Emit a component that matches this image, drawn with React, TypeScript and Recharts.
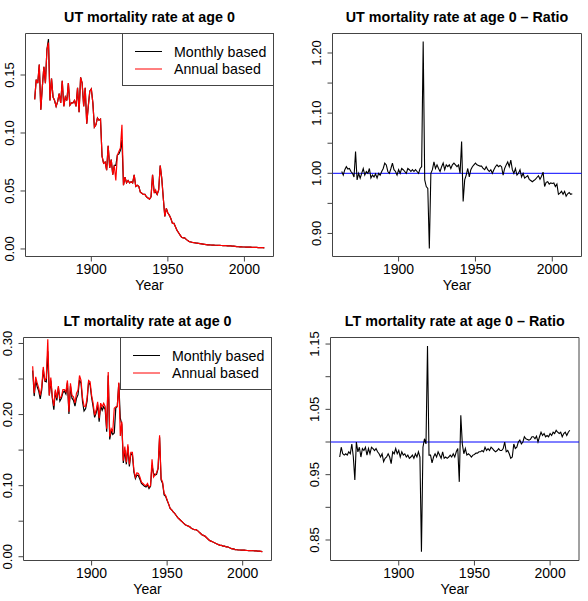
import { Line, LineChart, ReferenceArea, ReferenceLine, XAxis, YAxis } from "recharts";

const FONT = "'Liberation Sans', Arial, Helvetica, sans-serif";
const AXIS = "#444";
const X_AXIS_H = 36;

// UT series start in 1863, LT series in 1861; all end in 2013
const UT_START = 1863;
const LT_START = 1861;

const utAnnual = [
  0.129, 0.146, 0.143, 0.159, 0.120, 0.140, 0.157, 0.143, 0.172, 0.178,
  0.128, 0.147, 0.131, 0.128, 0.123, 0.127, 0.134, 0.126, 0.145, 0.123,
  0.131, 0.128, 0.143, 0.124, 0.126, 0.126, 0.128, 0.123, 0.139, 0.118,
  0.148, 0.143, 0.123, 0.139, 0.108, 0.123, 0.136, 0.138, 0.126, 0.105,
  0.107, 0.113, 0.111, 0.112, 0.080, 0.074, 0.075, 0.068, 0.089, 0.070,
  0.077, 0.064, 0.072, 0.059, 0.081, 0.084, 0.087, 0.107, 0.055, 0.062,
  0.057, 0.059, 0.057, 0.058, 0.057, 0.064, 0.054, 0.055, 0.054, 0.049,
  0.048, 0.047, 0.047, 0.045, 0.044, 0.043, 0.045, 0.064, 0.048, 0.051,
  0.047, 0.051, 0.072, 0.061, 0.044, 0.028, 0.035, 0.031, 0.029, 0.026,
  0.022, 0.022, 0.019, 0.016, 0.014, 0.012, 0.010, 0.0095, 0.0095, 0.0083,
  0.0072, 0.0063, 0.0060, 0.0057, 0.0055, 0.0052, 0.0050, 0.0048, 0.0046, 0.0044,
  0.0042, 0.0040, 0.0038, 0.0036, 0.0035, 0.0034, 0.0033, 0.0033, 0.0032, 0.0032,
  0.0031, 0.0031, 0.0030, 0.0029, 0.0029, 0.0028, 0.0027, 0.0027, 0.0026, 0.0025,
  0.0024, 0.0022, 0.0020, 0.0019, 0.0018, 0.0018, 0.0017, 0.0017, 0.0016, 0.0016,
  0.0015, 0.0015, 0.0014, 0.0014, 0.0013, 0.0013, 0.0012, 0.0012, 0.0011, 0.0011,
  0.0010,
];

const utMonthly = [
  0.129, 0.146, 0.143, 0.159, 0.120, 0.140, 0.157, 0.143, 0.172, 0.181,
  0.128, 0.147, 0.131, 0.128, 0.123, 0.127, 0.134, 0.126, 0.145, 0.123,
  0.131, 0.128, 0.143, 0.124, 0.126, 0.126, 0.128, 0.123, 0.139, 0.118,
  0.148, 0.143, 0.123, 0.139, 0.108, 0.123, 0.136, 0.138, 0.126, 0.105,
  0.107, 0.113, 0.111, 0.112, 0.080, 0.074, 0.075, 0.068, 0.089, 0.070,
  0.077, 0.064, 0.072, 0.072, 0.081, 0.082, 0.085, 0.094, 0.055, 0.062,
  0.057, 0.059, 0.057, 0.058, 0.057, 0.064, 0.054, 0.055, 0.054, 0.049,
  0.048, 0.047, 0.047, 0.045, 0.044, 0.043, 0.045, 0.064, 0.050, 0.049,
  0.047, 0.051, 0.072, 0.061, 0.044, 0.028, 0.035, 0.031, 0.029, 0.026,
  0.022, 0.022, 0.019, 0.016, 0.014, 0.012, 0.010, 0.0095, 0.0095, 0.0083,
  0.0072, 0.0063, 0.0060, 0.0057, 0.0055, 0.0052, 0.0050, 0.0048, 0.0046, 0.0044,
  0.0042, 0.0040, 0.0038, 0.0036, 0.0035, 0.0034, 0.0033, 0.0033, 0.0032, 0.0032,
  0.0031, 0.0031, 0.0030, 0.0029, 0.0029, 0.0028, 0.0027, 0.0027, 0.0026, 0.0025,
  0.0024, 0.0022, 0.0020, 0.0019, 0.0018, 0.0018, 0.0017, 0.0017, 0.0016, 0.0016,
  0.0015, 0.0015, 0.0014, 0.0014, 0.0013, 0.0013, 0.0012, 0.0012, 0.0011, 0.0011,
  0.0010,
];

const utRatio = [
  1.003, 0.997, 1.006, 1.011, 1.007, 1.008, 1.003, 1.000, 0.994, 1.036,
  0.989, 1.000, 0.992, 1.000, 1.008, 0.997, 1.003, 1.000, 1.008, 0.992,
  0.997, 0.994, 0.999, 0.992, 1.000, 0.997, 1.003, 1.008, 1.017, 1.014,
  1.003, 1.000, 1.008, 1.017, 1.006, 1.003, 0.997, 1.006, 1.000, 1.008,
  1.006, 1.003, 1.000, 1.008, 1.006, 1.003, 1.006, 1.003, 1.006, 1.003,
  1.000, 1.008, 1.011, 1.219, 0.989, 0.978, 0.975, 0.875, 1.000, 1.006,
  1.019, 1.008, 1.014, 1.008, 1.003, 1.011, 1.017, 1.006, 1.014, 1.011,
  1.014, 1.008, 1.014, 1.017, 1.014, 1.011, 1.014, 1.000, 1.053, 0.953,
  0.989, 0.997, 1.008, 0.994, 1.006, 1.011, 1.014, 1.017, 1.014, 1.013,
  1.012, 1.012, 1.008, 1.006, 1.011, 1.006, 1.003, 1.006, 1.000, 1.006,
  1.011, 1.014, 1.011, 1.013, 1.011, 0.997, 1.008, 1.014, 1.019, 1.011,
  1.022, 1.006, 1.000, 1.008, 0.997, 1.000, 1.006, 0.994, 1.000, 0.992,
  0.994, 0.996, 0.990, 0.988, 0.986, 0.988, 0.990, 0.993, 0.996, 0.990,
  0.995, 1.002, 0.978, 0.985, 0.986, 0.982, 0.984, 0.983, 0.984, 0.978,
  0.982, 0.965, 0.967, 0.970, 0.965, 0.970, 0.962, 0.966, 0.968, 0.965,
  0.966,
];

const ltAnnual = [
  0.268, 0.230, 0.253, 0.244, 0.237, 0.227, 0.239, 0.267, 0.248, 0.251,
  0.306, 0.227, 0.252, 0.225, 0.212, 0.235, 0.223, 0.240, 0.223, 0.225,
  0.235, 0.235, 0.232, 0.248, 0.204, 0.244, 0.227, 0.225, 0.216, 0.230,
  0.234, 0.255, 0.248, 0.223, 0.212, 0.211, 0.223, 0.248, 0.246, 0.227,
  0.216, 0.199, 0.206, 0.218, 0.195, 0.216, 0.211, 0.216, 0.211, 0.180,
  0.260, 0.169, 0.180, 0.176, 0.209, 0.211, 0.211, 0.245, 0.170, 0.190,
  0.135, 0.155, 0.133, 0.158, 0.130, 0.147, 0.147, 0.122, 0.112, 0.118,
  0.117, 0.112, 0.105, 0.103, 0.101, 0.100, 0.103, 0.098, 0.100, 0.137,
  0.112, 0.115, 0.118, 0.125, 0.171, 0.110, 0.105, 0.089, 0.086, 0.080,
  0.074, 0.068, 0.066, 0.063, 0.061, 0.058, 0.055, 0.053, 0.051, 0.049,
  0.047, 0.045, 0.044, 0.043, 0.042, 0.040, 0.039, 0.038, 0.038, 0.037,
  0.035, 0.033, 0.031, 0.030, 0.029, 0.027, 0.025, 0.023, 0.022, 0.021,
  0.020, 0.019, 0.018, 0.017, 0.016, 0.016, 0.015, 0.015, 0.014, 0.014,
  0.013, 0.012, 0.011, 0.011, 0.010, 0.0098, 0.0096, 0.0095, 0.0094, 0.0093,
  0.0092, 0.0090, 0.0088, 0.0087, 0.0086, 0.0085, 0.0084, 0.0083, 0.0082, 0.0080,
  0.0078, 0.0075, 0.0072,
];

const ltMonthly = [
  0.262, 0.226, 0.248, 0.239, 0.233, 0.222, 0.235, 0.263, 0.247, 0.246,
  0.289, 0.227, 0.248, 0.223, 0.207, 0.233, 0.220, 0.238, 0.219, 0.223,
  0.231, 0.233, 0.229, 0.245, 0.201, 0.240, 0.223, 0.220, 0.212, 0.223,
  0.228, 0.249, 0.244, 0.218, 0.205, 0.208, 0.219, 0.246, 0.242, 0.224,
  0.211, 0.196, 0.202, 0.214, 0.190, 0.212, 0.206, 0.211, 0.207, 0.176,
  0.255, 0.165, 0.177, 0.172, 0.174, 0.209, 0.212, 0.244, 0.195, 0.186,
  0.132, 0.150, 0.130, 0.155, 0.127, 0.145, 0.144, 0.119, 0.110, 0.115,
  0.114, 0.109, 0.103, 0.101, 0.099, 0.098, 0.101, 0.096, 0.099, 0.129,
  0.117, 0.115, 0.116, 0.124, 0.168, 0.108, 0.103, 0.087, 0.085, 0.079,
  0.074, 0.068, 0.066, 0.063, 0.061, 0.058, 0.055, 0.053, 0.051, 0.049,
  0.047, 0.045, 0.044, 0.043, 0.042, 0.040, 0.039, 0.038, 0.038, 0.037,
  0.035, 0.033, 0.031, 0.030, 0.029, 0.027, 0.025, 0.023, 0.022, 0.021,
  0.020, 0.019, 0.018, 0.017, 0.016, 0.016, 0.015, 0.015, 0.014, 0.014,
  0.013, 0.012, 0.011, 0.011, 0.010, 0.0098, 0.0096, 0.0095, 0.0094, 0.0093,
  0.0092, 0.0090, 0.0088, 0.0087, 0.0086, 0.0085, 0.0084, 0.0083, 0.0082, 0.0080,
  0.0078, 0.0075, 0.0072,
];

const ltRatio = [
  0.977, 0.992, 0.982, 0.980, 0.982, 0.980, 0.985, 0.982, 0.997, 0.977,
  0.942, 1.000, 0.985, 0.992, 0.977, 0.990, 0.987, 0.992, 0.980, 0.990,
  0.982, 0.992, 0.990, 0.987, 0.990, 0.985, 0.982, 0.977, 0.982, 0.970,
  0.975, 0.977, 0.982, 0.977, 0.967, 0.985, 0.982, 0.990, 0.982, 0.987,
  0.977, 0.985, 0.980, 0.982, 0.977, 0.980, 0.975, 0.977, 0.980, 0.975,
  0.982, 0.977, 0.985, 0.977, 0.832, 0.992, 1.005, 0.997, 1.147, 0.980,
  0.980, 0.968, 0.977, 0.982, 0.977, 0.985, 0.980, 0.975, 0.985, 0.975,
  0.977, 0.975, 0.977, 0.980, 0.977, 0.982, 0.977, 0.985, 0.990, 0.939,
  1.041, 0.997, 0.982, 0.990, 0.980, 0.982, 0.980, 0.977, 0.980, 0.981,
  0.983, 0.983, 0.985, 0.985, 0.987, 0.985, 0.992, 0.987, 0.990, 0.987,
  0.992, 0.990, 0.987, 0.985, 0.987, 0.990, 0.987, 0.987, 0.990, 1.000,
  0.985, 0.987, 0.982, 0.975, 0.977, 0.997, 0.990, 0.992, 1.000, 1.003,
  0.997, 1.000, 1.008, 1.005, 1.004, 1.003, 1.004, 1.008, 1.008, 1.005,
  1.009, 1.000, 1.008, 1.015, 1.010, 1.013, 1.008, 1.010, 1.008, 1.013,
  1.010, 1.015, 1.013, 1.018, 1.015, 1.013, 1.015, 1.008, 1.013, 1.015,
  1.010, 1.015, 1.018,
];

const yearTicks = [1900, 1950, 2000];
const utRateTicks = [0, 0.05, 0.1, 0.15];
const utRatioTicks = [0.9, 0.95, 1.0, 1.05, 1.1, 1.15, 1.2];
const utRatioLabels = [0.9, 1.0, 1.1, 1.2];
const ltRateTicks = [0, 0.05, 0.1, 0.15, 0.2, 0.25, 0.3];
const ltRateLabels = [0, 0.1, 0.2, 0.3];
const ltRatioTicks = [0.85, 0.9, 0.95, 1.0, 1.05, 1.1, 1.15];
const ltRatioLabels = [0.85, 0.95, 1.05, 1.15];

type Row = { year: number; monthly: number; annual: number; ratio: number };

function toRows(start: number, monthly: number[], annual: number[], ratio: number[]): Row[] {
  return annual.map((a, i) => ({ year: start + i, monthly: monthly[i], annual: a, ratio: ratio[i] }));
}

const utRows = toRows(UT_START, utMonthly, utAnnual, utRatio);
const ltRows = toRows(LT_START, ltMonthly, ltAnnual, ltRatio);

function XTick(props: any) {
  const { x, y, payload } = props;
  return (
    <text x={x} y={y + 10} textAnchor="middle" fontSize={14} fontFamily={FONT} fill="#000">
      {payload.value}
    </text>
  );
}

// R draws rotated tick labels on the y axis; some ticks stay unlabelled
function YTick(props: any) {
  const { x, y, payload, labels } = props;
  const shown = labels.some((v: number) => Math.abs(v - payload.value) < 1e-9);
  if (!shown) return <g />;
  return (
    <text
      x={x}
      y={y}
      transform={`rotate(-90 ${x} ${y})`}
      textAnchor="middle"
      fontSize={13}
      fontFamily={FONT}
      fill="#000"
    >
      {Number(payload.value).toFixed(2)}
    </text>
  );
}

function LegendBox({ left, top }: { left: number; top: number }) {
  return (
    <div
      style={{
        position: "absolute",
        left,
        top,
        width: 152,
        height: 53,
        boxSizing: "border-box",
        border: `1px solid ${AXIS}`,
        background: "#fff",
      }}
    >
      <svg width={150} height={51} style={{ display: "block" }}>
        <line x1={12} x2={39} y1={17.5} y2={17.5} stroke="#000" strokeWidth={1} />
        <line x1={12} x2={39} y1={35} y2={35} stroke="red" strokeWidth={1} />
        <text x={51} y={22.5} fontSize={14.2} fontFamily={FONT} fill="#000">Monthly based</text>
        <text x={51} y={40} fontSize={14.2} fontFamily={FONT} fill="#000">Annual based</text>
      </svg>
    </div>
  );
}

type PanelProps = {
  x: number;
  y: number;
  plot: { l: number; t: number; w: number; h: number };
  title: string;
  rows: Row[];
  xDomain: [number, number];
  yDomain: [number, number];
  yTicks: number[];
  yLabels: number[];
  ratio?: boolean;
};

function Panel({ x, y, plot, title, rows, xDomain, yDomain, yTicks, yLabels, ratio }: PanelProps) {
  const W = 294;
  const H = 300;
  const margin = { top: plot.t, right: W - plot.l - plot.w, bottom: H - plot.t - plot.h - X_AXIS_H, left: 0 };
  return (
    <>
      <div
        style={{
          position: "absolute",
          left: x + plot.l,
          top: y + plot.t - 23.5,
          width: plot.w,
          textAlign: "center",
          fontFamily: FONT,
          fontWeight: "bold",
          fontSize: 14.3,
          lineHeight: "14.3px",
          whiteSpace: "nowrap",
        }}
      >
        {title}
      </div>
      <div style={{ position: "absolute", left: x, top: y }}>
        <LineChart width={W} height={H} data={rows} margin={margin}>
          <XAxis
            dataKey="year"
            type="number"
            domain={xDomain}
            allowDataOverflow
            ticks={yearTicks}
            interval={0}
            axisLine={false}
            tickLine={{ stroke: AXIS }}
            tickSize={5}
            tickMargin={2}
            height={X_AXIS_H}
            tick={XTick}
            label={{ value: "Year", position: "insideBottom", offset: 3, fill: "#000", fontSize: 14, fontFamily: FONT }}
          />
          <YAxis
            type="number"
            domain={yDomain}
            allowDataOverflow
            ticks={yTicks}
            interval={0}
            width={plot.l}
            axisLine={false}
            tickLine={{ stroke: AXIS }}
            tickSize={5}
            tickMargin={6}
            tick={(p: any) => <YTick {...p} labels={yLabels} />}
          />
          {ratio ? (
            <>
              <ReferenceLine y={1} stroke="#0000ff" strokeWidth={1} />
              <Line type="linear" dataKey="ratio" stroke="#000" strokeWidth={1.1} dot={false} isAnimationActive={false} />
            </>
          ) : (
            <>
              <Line type="linear" dataKey="monthly" stroke="#000" strokeWidth={1.2} dot={false} isAnimationActive={false} />
              <Line type="linear" dataKey="annual" stroke="red" strokeWidth={1.2} dot={false} isAnimationActive={false} />
            </>
          )}
          <ReferenceArea
            x1={xDomain[0]}
            x2={xDomain[1]}
            y1={yDomain[0]}
            y2={yDomain[1]}
            fill="none"
            fillOpacity={0}
            stroke={AXIS}
            strokeWidth={1}
            ifOverflow="visible"
          />
        </LineChart>
      </div>
      {!ratio && <LegendBox left={x + plot.l + plot.w - 152 + 0.5} top={y + plot.t - 0.5} />}
    </>
  );
}

export default function App() {
  const utX: [number, number] = [1857, 2019];
  const ltX: [number, number] = [1854.92, 2019.08];
  return (
    <div style={{ position: "absolute", left: 0, top: 0, width: 588, height: 601, background: "#fff" }}>
      <Panel
        x={0}
        y={0}
        plot={{ l: 25.5, t: 33.5, w: 248, h: 223 }}
        title="UT mortality rate at age 0"
        rows={utRows}
        xDomain={utX}
        yDomain={[-0.0065, 0.1858]}
        yTicks={utRateTicks}
        yLabels={utRateTicks}
      />
      <Panel
        x={294}
        y={0}
        plot={{ l: 38.5, t: 33.5, w: 249, h: 223 }}
        title="UT mortality rate at age 0 – Ratio"
        rows={utRows}
        xDomain={utX}
        yDomain={[0.8617, 1.2324]}
        yTicks={utRatioTicks}
        yLabels={utRatioLabels}
        ratio
      />
      <Panel
        x={0}
        y={300}
        plot={{ l: 23.5, t: 37.5, w: 248, h: 223 }}
        title="LT mortality rate at age 0"
        rows={ltRows}
        xDomain={ltX}
        yDomain={[-0.0053, 0.3084]}
        yTicks={ltRateTicks}
        yLabels={ltRateLabels}
      />
      <Panel
        x={294}
        y={300}
        plot={{ l: 36.5, t: 37.5, w: 248.5, h: 223 }}
        title="LT mortality rate at age 0 – Ratio"
        rows={ltRows}
        xDomain={ltX}
        yDomain={[0.8186, 1.16]}
        yTicks={ltRatioTicks}
        yLabels={ltRatioLabels}
        ratio
      />
    </div>
  );
}
